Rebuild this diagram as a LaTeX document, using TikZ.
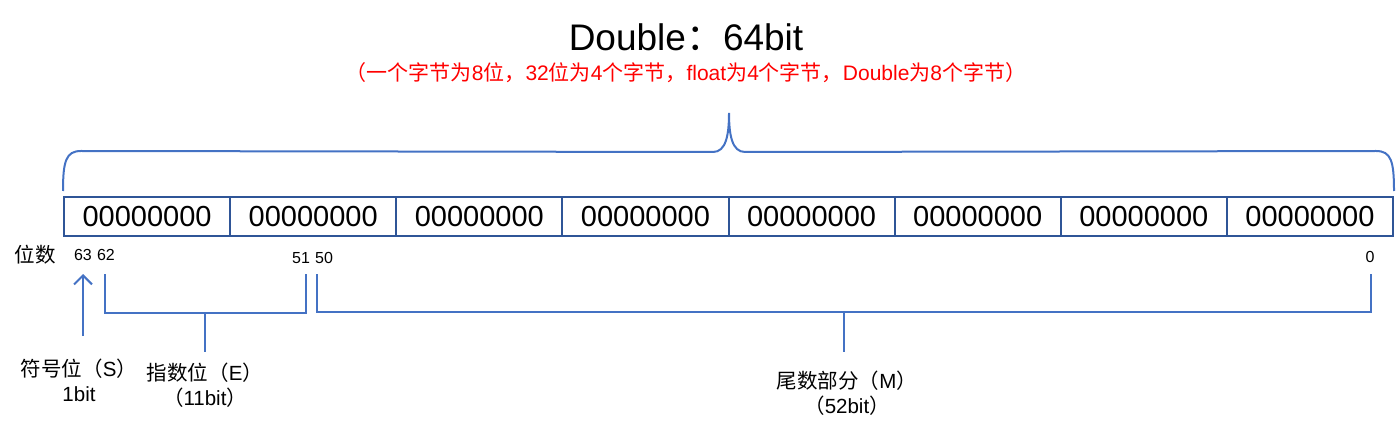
\documentclass[tikz,border=0pt]{standalone}
\usepackage{fontspec}
\setmainfont{Liberation Sans}
\newfontfamily\cjk{Noto Sans CJK SC}
\newcommand{\zh}[1]{{\cjk #1}}
\usepackage{tikz}
\usetikzlibrary{arrows.meta,positioning,calc}
\definecolor{boxbd}{HTML}{2F5597}
\definecolor{linebl}{HTML}{4472C4}
\definecolor{notered}{HTML}{FF0000}
\tikzset{
  cellbox/.style={rectangle,draw=boxbd,line width=2pt,minimum width=166.125pt,
    minimum height=39pt,inner sep=0pt,font=\fontsize{29}{30}\selectfont},
  bitnum/.style={inner sep=0pt,font=\fontsize{16}{18}\selectfont},
  partlbl/.style={inner sep=0pt,align=center,font=\fontsize{20.5}{25}\selectfont},
  bline/.style={draw=linebl,line width=2pt},
  barr/.style={bline,-{Straight Barb[length=9pt,width=18pt,line width=2pt]}},
}

\begin{document}
\begin{tikzpicture}[x=1pt,y=-1pt]
  \useasboundingbox (0,0) rectangle (1396,430);

  % title and note
  \node[inner sep=0pt,font=\fontsize{37}{40}\selectfont] (title) at (686,37) {Double\zh{：}64bit};
  \node[inner sep=0pt,text=notered,font=\fontsize{21}{24}\selectfont] (note) at (686,73)
    {\zh{（一个字节为}8\zh{位，}32\zh{位为}4\zh{个字节，}float\zh{为}4\zh{个字节，}Double\zh{为}8\zh{个字节）}};

  % the eight bytes
  \foreach \i in {1,...,8}
    \node[cellbox] (c\i) at ({64+166.125*(\i-0.5)},216.5) {00000000};

  % brace over the bytes
  \draw[bline] ($(c1.north west)+(0,-5)$) .. controls ($(c1.north west)+(0,-35)$) and ($(c1.north west)+(3,-45)$) .. ($(c1.north west)+(18,-45)$)
    -- (713,152) .. controls (726,152) and (729,135) .. (729,113)
    .. controls (729,135) and (732,152) .. (745,152)
    -- ($(c8.north east)+(-18,-45)$) .. controls ($(c8.north east)+(-3,-45)$) and ($(c8.north east)+(0,-35)$) .. ($(c8.north east)+(0,-5)$);

  % bit positions
  \node[inner sep=0pt,font=\fontsize{20.5}{22}\selectfont] (weishu) at (35,255) {\zh{位数}};
  \node[bitnum] (b63) at (83,255) {63};
  \node[bitnum] (b62) at (106,255) {62};
  \node[bitnum] (b51) at (301,258) {51};
  \node[bitnum] (b50) at (324,258) {50};
  \node[bitnum] (b0) at (1370,257) {0};

  % part labels
  \node[partlbl] (sign) at (79,380) {\zh{符号位（}S\zh{）}\\1bit};
  \node[partlbl] (expo) at (205,385) {\zh{指数位（}E\zh{）}\\\zh{（}11bit\zh{）}};
  \node[partlbl] (mant) at (847,393) {\zh{尾数部分（}M\zh{）}\\\zh{（}52bit\zh{）}};

  % brackets
  \coordinate (e1) at (105,274);
  \coordinate (e2) at (306,274);
  \coordinate (m1) at (317,274);
  \coordinate (m2) at (1371,274);
  \draw[barr] (83,336) -- (b63.south |- 0,274);
  \draw[bline] (e1) -- (105,313) -- (306,313) -- (e2);
  \draw[bline] (205,313) -- (205,352);
  \draw[bline] (m1) -- (317,312) -- (1371,312) -- (m2);
  \draw[bline] (844,312) -- (844,352);
\end{tikzpicture}
\end{document}
